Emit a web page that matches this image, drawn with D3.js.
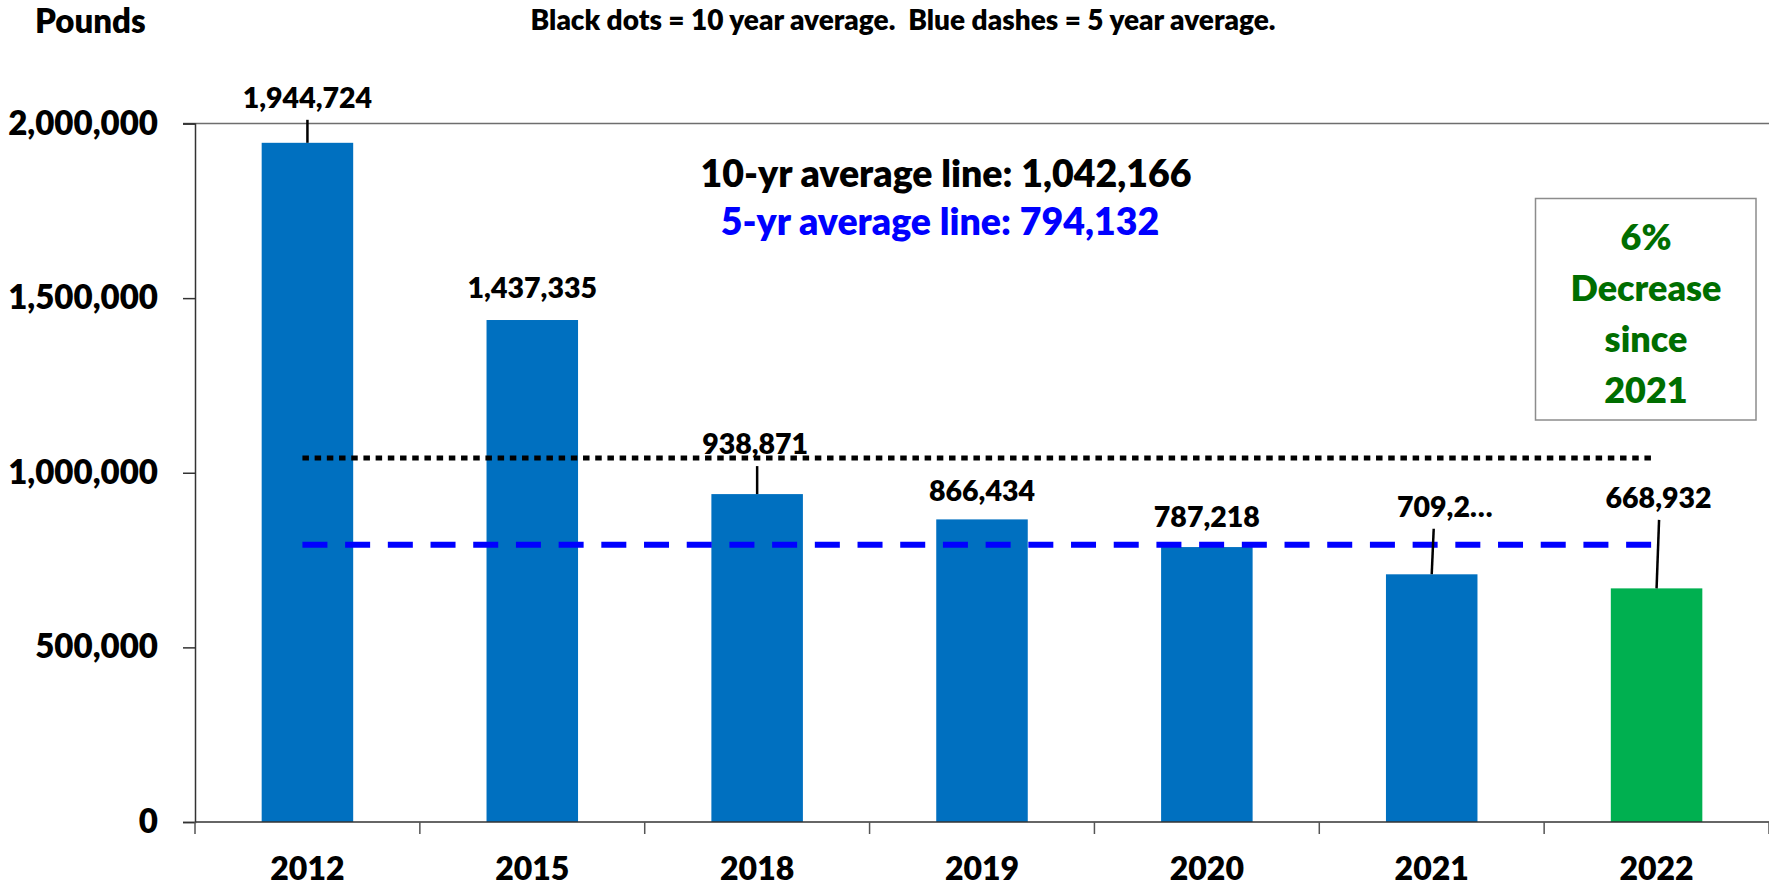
<!DOCTYPE html>
<html>
<head>
<meta charset="utf-8">
<script src="https://cdn.jsdelivr.net/npm/d3@7"></script>
<style>
  html, body { margin: 0; padding: 0; background: #fff; }
  svg { display: block; font-family: Lato, "Open Sans", sans-serif; font-weight: 800; }
  text { white-space: pre; }
</style>
</head>
<body>
<svg id="chart" width="1769" height="887"></svg>
<script>
// Pounds per year
const years = ["2012", "2015", "2018", "2019", "2020", "2021", "2022"];
const pounds = [1944724, 1437335, 938871, 866434, 787218, 709205, 668932];
const tenYearAverage = 1042166;
const fiveYearAverage = 794132;
const yTicks = [0, 500000, 1000000, 1500000, 2000000];
const subtitle = "Black dots = 10 year average.  Blue dashes = 5 year average.";

const svg = d3.select("#chart");
const fmt = d3.format(",");

const plotLeft = 195, plotRight = 1769, plotTop = 123.5, plotBottom = 822;

const x = d3.scaleBand()
  .domain(years)
  .range([plotLeft, plotRight])
  .paddingInner(0.593)
  .paddingOuter(0.2965);

const y = d3.scaleLinear()
  .domain([0, 2000000])
  .range([plotBottom, plotTop]);

// plot-area top border
svg.append("line")
  .attr("x1", plotLeft - 12).attr("x2", plotRight)
  .attr("y1", y(2000000)).attr("y2", y(2000000))
  .attr("stroke", "#6e6e6e").attr("stroke-width", 1.5);

// bars
const lastYear = years[years.length - 1];
svg.append("g").selectAll("rect")
  .data(years)
  .join("rect")
  .attr("x", d => x(d))
  .attr("width", x.bandwidth())
  .attr("y", (d, i) => y(pounds[i]))
  .attr("height", (d, i) => y(0) - y(pounds[i]))
  .attr("fill", d => d === lastYear ? "#00B050" : "#0070C0");

// y axis
const yAxis = svg.append("g")
  .attr("transform", `translate(${plotLeft},0)`)
  .call(d3.axisLeft(y).tickValues(yTicks).tickFormat(fmt).tickSize(12).tickPadding(25));
yAxis.select(".domain").attr("stroke", "#333").attr("stroke-width", 1.5);
yAxis.selectAll(".tick line").attr("stroke", "#333").attr("stroke-width", 1.5);
yAxis.selectAll(".tick text")
  .attr("font-size", 33).attr("font-family", "Lato").attr("font-weight", 800).attr("fill", "#000");

// x axis baseline and category separators
svg.append("line")
  .attr("x1", plotLeft).attr("x2", plotRight)
  .attr("y1", y(0)).attr("y2", y(0))
  .attr("stroke", "#333").attr("stroke-width", 1.5);
svg.append("g").selectAll("line")
  .data(d3.range(years.length + 1))
  .join("line")
  .attr("x1", i => plotLeft + i * x.step()).attr("x2", i => plotLeft + i * x.step())
  .attr("y1", y(0)).attr("y2", y(0) + 12)
  .attr("stroke", "#555").attr("stroke-width", 1.5);

svg.append("g").selectAll("text")
  .data(years)
  .join("text")
  .attr("x", d => x(d) + x.bandwidth() / 2)
  .attr("y", 880)
  .attr("text-anchor", "middle")
  .attr("font-size", 32)
  .text(d => d);

// average reference lines
const x0 = x(years[0]) + x.bandwidth() / 2;
const x1 = x(lastYear) + x.bandwidth() / 2;
svg.append("line")
  .attr("x1", x0 - 5).attr("x2", x1)
  .attr("y1", y(tenYearAverage)).attr("y2", y(tenYearAverage))
  .attr("stroke", "#000").attr("stroke-width", 5)
  .attr("stroke-dasharray", "6.5,5.7");
svg.append("line")
  .attr("x1", x0 - 5).attr("x2", x1 + 2)
  .attr("y1", y(fiveYearAverage)).attr("y2", y(fiveYearAverage))
  .attr("stroke", "#0000FF").attr("stroke-width", 6)
  .attr("stroke-dasharray", "25,17.7");

// data labels: per-bar lift above the bar top, horizontal nudge, and leader line
const labelPlacement = [
  { lift: 35, dx: 0, leader: true, leaderDx: 0 },
  { lift: 22, dx: 0, leader: false },
  { lift: 40, dx: -2, leader: true, leaderDx: 0 },
  { lift: 18, dx: 0, leader: false },
  { lift: 20, dx: 0, leader: false },
  { lift: 57.5, dx: 13, leader: true, leaderDx: 2 },
  { lift: 80.5, dx: 2, leader: true, leaderDx: 2.5 }
];
const labelText = (v, i) => i === 5 ? fmt(v).slice(0, 5) + "…" : fmt(v);

const labels = svg.append("g");
years.forEach((yr, i) => {
  const cx = x(yr) + x.bandwidth() / 2;
  const barTop = y(pounds[i]);
  const p = labelPlacement[i];
  const base = barTop - p.lift;
  if (p.leader) {
    labels.append("line")
      .attr("x1", cx + p.leaderDx).attr("y1", base + 12)
      .attr("x2", cx).attr("y2", barTop)
      .attr("stroke", "#000").attr("stroke-width", 2.5);
  }
  labels.append("text")
    .attr("x", cx + p.dx).attr("y", base)
    .attr("text-anchor", "middle")
    .attr("font-size", 28.5)
    .text(labelText(pounds[i], i));
});

// headings
svg.append("text")
  .attr("x", 35).attr("y", 33)
  .attr("font-size", 33)
  .text("Pounds");
svg.append("text")
  .attr("x", 903).attr("y", 30)
  .attr("text-anchor", "middle")
  .attr("font-size", 28)
  .text(subtitle);

svg.append("text")
  .attr("x", 946).attr("y", 187)
  .attr("text-anchor", "middle")
  .attr("font-size", 37.5)
  .attr("fill", "#000")
  .text("10-yr average line: " + fmt(tenYearAverage));
svg.append("text")
  .attr("x", 940).attr("y", 235)
  .attr("text-anchor", "middle")
  .attr("font-size", 37.5)
  .attr("fill", "#0000FF")
  .text("5-yr average line: " + fmt(fiveYearAverage));

// change-since-previous-year callout
const prev = pounds[pounds.length - 2], curr = pounds[pounds.length - 1];
const pct = Math.round(Math.abs(curr - prev) / prev * 100);
const calloutLines = [pct + "%", curr < prev ? "Decrease" : "Increase", "since", years[years.length - 2]];
svg.append("rect")
  .attr("x", 1535.5).attr("y", 198.5)
  .attr("width", 220.5).attr("height", 221.5)
  .attr("fill", "#fff")
  .attr("stroke", "#8c8c8c").attr("stroke-width", 1.5);
svg.append("g").selectAll("text")
  .data(calloutLines)
  .join("text")
  .attr("x", 1646)
  .attr("y", (d, i) => 249.5 + i * 51)
  .attr("text-anchor", "middle")
  .attr("font-size", 36)
  .attr("fill", "#006E00")
  .text(d => d);
</script>
</body>
</html>
